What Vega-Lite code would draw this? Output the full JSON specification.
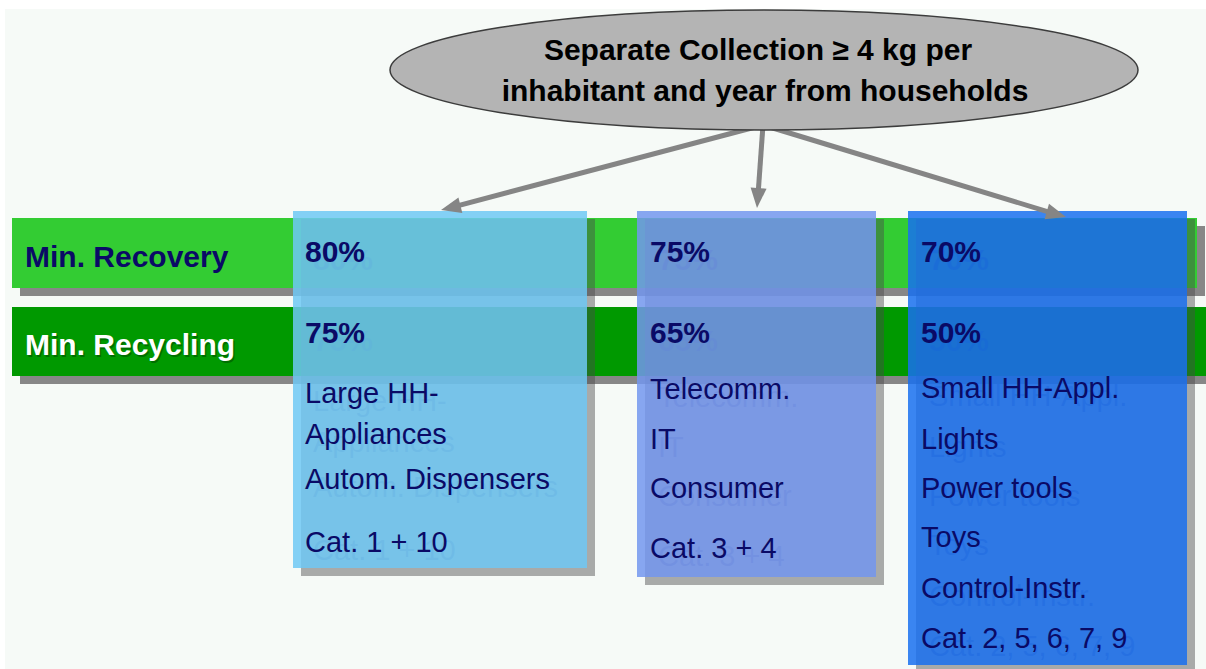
{
  "$schema": "https://vega.github.io/schema/vega-lite/v6.json",
  "width": 1206,
  "height": 669,
  "padding": 0,
  "autosize": {"type": "fit", "contains": "padding"},
  "background": "#f6faf7",
  "config": {"view": {"stroke": null}},
  "datasets": {
    "rects": [
      {"part": "frame", "x": 0, "x2": 1206, "y": 0, "y2": 9},
      {"part": "frame", "x": 0, "x2": 5, "y": 0, "y2": 669},
      {"part": "recovery", "x": 12, "x2": 1197, "y": 218, "y2": 288},
      {"part": "recycling", "x": 12, "x2": 1206, "y": 307, "y2": 376},
      {"part": "box1", "x": 293, "x2": 587, "y": 211, "y2": 568},
      {"part": "box2", "x": 637, "x2": 876, "y": 211, "y2": 577},
      {"part": "box3", "x": 908, "x2": 1187, "y": 211, "y2": 665}
    ],
    "texts": [
      {"role": "recoveryLabel", "text": "Min. Recovery", "x": 25, "y": 267},
      {"role": "recyclingLabel", "text": "Min. Recycling", "x": 25, "y": 355},
      {"role": "pct", "text": "80%", "x": 305, "y": 262},
      {"role": "pct", "text": "75%", "x": 305, "y": 343},
      {"role": "item", "text": "Large HH-", "x": 305, "y": 403},
      {"role": "item", "text": "Appliances", "x": 305, "y": 444},
      {"role": "item", "text": "Autom. Dispensers", "x": 305, "y": 489},
      {"role": "item", "text": "Cat. 1 + 10", "x": 305, "y": 552},
      {"role": "pct", "text": "75%", "x": 650, "y": 262},
      {"role": "pct", "text": "65%", "x": 650, "y": 343},
      {"role": "item", "text": "Telecomm.", "x": 650, "y": 399},
      {"role": "item", "text": "IT", "x": 650, "y": 449},
      {"role": "item", "text": "Consumer", "x": 650, "y": 498},
      {"role": "item", "text": "Cat. 3 + 4", "x": 650, "y": 558},
      {"role": "pct", "text": "70%", "x": 921, "y": 262},
      {"role": "pct", "text": "50%", "x": 921, "y": 343},
      {"role": "item", "text": "Small HH-Appl.", "x": 921, "y": 398},
      {"role": "item", "text": "Lights", "x": 921, "y": 449},
      {"role": "item", "text": "Power tools", "x": 921, "y": 498},
      {"role": "item", "text": "Toys", "x": 921, "y": 547},
      {"role": "item", "text": "Control-Instr.", "x": 921, "y": 598},
      {"role": "item", "text": "Cat. 2, 5, 6, 7, 9", "x": 921, "y": 648},
      {"role": "title", "text": "Separate Collection ≥ 4 kg per", "x": 758, "y": 60},
      {"role": "title", "text": "inhabitant and year from households", "x": 765, "y": 101}
    ],
    "arrows": [
      {"x": 763, "y": 125, "x2": 450.7, "y2": 207.6},
      {"x": 763, "y": 125, "x2": 757.8, "y2": 198},
      {"x": 763, "y": 125, "x2": 1056.4, "y2": 214.3}
    ],
    "heads": [
      {"x": 450.7, "y": 207.6, "heading": 256},
      {"x": 757.8, "y": 198, "heading": 184.5},
      {"x": 1056.4, "y": 214.3, "heading": 106}
    ],
    "ellipse": [
      {"x": 764, "y": 70}
    ]
  },
  "encoding": {
    "x": {"field": "x", "type": "quantitative", "scale": {"domain": [0, 1206], "nice": false, "zero": false}, "axis": null},
    "y": {"field": "y", "type": "quantitative", "scale": {"domain": [0, 669], "nice": false, "zero": false, "reverse": true}, "axis": null}
  },
  "layer": [
    {
      "data": {"name": "rects"},
      "transform": [{"filter": {"field": "part", "equal": "frame"}}],
      "mark": {"type": "rect", "color": "#ffffff", "clip": true},
      "encoding": {"x2": {"field": "x2"}, "y2": {"field": "y2"}}
    },
    {
      "data": {"name": "rects"},
      "transform": [{"filter": {"field": "part", "oneOf": ["recovery", "recycling"]}}],
      "mark": {"type": "rect", "color": "#878787", "clip": true, "xOffset": 8, "x2Offset": 8, "yOffset": 8, "y2Offset": 8},
      "encoding": {"x2": {"field": "x2"}, "y2": {"field": "y2"}}
    },
    {
      "data": {"name": "rects"},
      "transform": [{"filter": {"field": "part", "equal": "recovery"}}],
      "mark": {"type": "rect", "color": "#33cc33", "clip": true},
      "encoding": {"x2": {"field": "x2"}, "y2": {"field": "y2"}}
    },
    {
      "data": {"name": "rects"},
      "transform": [{"filter": {"field": "part", "equal": "recycling"}}],
      "mark": {"type": "rect", "color": "#009900", "clip": true},
      "encoding": {"x2": {"field": "x2"}, "y2": {"field": "y2"}}
    },
    {
      "data": {"name": "texts"},
      "transform": [{"filter": {"field": "role", "equal": "recyclingLabel"}}],
      "mark": {"type": "text", "align": "left", "baseline": "alphabetic", "font": "Liberation Sans", "fontSize": 30, "fontWeight": "bold", "fill": "#003300", "opacity": 0.4, "dx": 1.5, "dy": 1.5, "clip": true},
      "encoding": {"text": {"field": "text"}}
    },
    {
      "data": {"name": "texts"},
      "transform": [{"filter": {"field": "role", "equal": "recoveryLabel"}}],
      "mark": {"type": "text", "align": "left", "baseline": "alphabetic", "font": "Liberation Sans", "fontSize": 30, "fontWeight": "bold", "fill": "#0a0a66", "clip": true},
      "encoding": {"text": {"field": "text"}}
    },
    {
      "data": {"name": "texts"},
      "transform": [{"filter": {"field": "role", "equal": "recyclingLabel"}}],
      "mark": {"type": "text", "align": "left", "baseline": "alphabetic", "font": "Liberation Sans", "fontSize": 30, "fontWeight": "bold", "fill": "#ffffff", "clip": true},
      "encoding": {"text": {"field": "text"}}
    },
    {
      "data": {"name": "rects"},
      "transform": [{"filter": {"field": "part", "oneOf": ["box1", "box2", "box3"]}}],
      "mark": {"type": "rect", "color": "#4a4a4a", "opacity": 0.45, "clip": true, "xOffset": 8, "x2Offset": 8, "yOffset": 8, "y2Offset": 8},
      "encoding": {"x2": {"field": "x2"}, "y2": {"field": "y2"}}
    },
    {
      "data": {"name": "texts"},
      "transform": [{"filter": {"field": "role", "equal": "pct"}}],
      "mark": {"type": "text", "align": "left", "baseline": "alphabetic", "font": "Liberation Sans", "fontSize": 30, "fontWeight": "bold", "fill": "#0a0a66", "opacity": 0.35, "dx": 8, "dy": 8, "clip": true},
      "encoding": {"text": {"field": "text"}}
    },
    {
      "data": {"name": "texts"},
      "transform": [{"filter": {"field": "role", "equal": "item"}}],
      "mark": {"type": "text", "align": "left", "baseline": "alphabetic", "font": "Liberation Sans", "fontSize": 29, "fill": "#0a0a66", "opacity": 0.35, "dx": 8, "dy": 8, "clip": true},
      "encoding": {"text": {"field": "text"}}
    },
    {
      "data": {"name": "rects"},
      "transform": [{"filter": {"field": "part", "equal": "box1"}}],
      "mark": {"type": "rect", "color": "#6ec8f5", "opacity": 0.85, "clip": true},
      "encoding": {"x2": {"field": "x2"}, "y2": {"field": "y2"}}
    },
    {
      "data": {"name": "rects"},
      "transform": [{"filter": {"field": "part", "equal": "box2"}}],
      "mark": {"type": "rect", "color": "#7396ee", "opacity": 0.85, "clip": true},
      "encoding": {"x2": {"field": "x2"}, "y2": {"field": "y2"}}
    },
    {
      "data": {"name": "rects"},
      "transform": [{"filter": {"field": "part", "equal": "box3"}}],
      "mark": {"type": "rect", "color": "#1970f0", "opacity": 0.85, "clip": true},
      "encoding": {"x2": {"field": "x2"}, "y2": {"field": "y2"}}
    },
    {
      "data": {"name": "texts"},
      "transform": [{"filter": {"field": "role", "equal": "pct"}}],
      "mark": {"type": "text", "align": "left", "baseline": "alphabetic", "font": "Liberation Sans", "fontSize": 30, "fontWeight": "bold", "fill": "#0a0a66", "clip": true},
      "encoding": {"text": {"field": "text"}}
    },
    {
      "data": {"name": "texts"},
      "transform": [{"filter": {"field": "role", "equal": "item"}}],
      "mark": {"type": "text", "align": "left", "baseline": "alphabetic", "font": "Liberation Sans", "fontSize": 29, "fill": "#0a0a66", "clip": true},
      "encoding": {"text": {"field": "text"}}
    },
    {
      "data": {"name": "arrows"},
      "mark": {"type": "rule", "color": "#858585", "strokeWidth": 5, "clip": true},
      "encoding": {"x2": {"field": "x2"}, "y2": {"field": "y2"}}
    },
    {
      "data": {"name": "heads"},
      "mark": {"type": "point", "shape": "M0,-1L-0.8,1L0.8,1Z", "size": 400, "filled": true, "color": "#858585", "opacity": 1, "clip": true},
      "encoding": {"angle": {"field": "heading", "type": "quantitative", "scale": null}}
    },
    {
      "data": {"name": "ellipse"},
      "mark": {"type": "point", "shape": "M-1,0C-1,-0.0886,-0.5523,-0.1604,0,-0.1604C0.5523,-0.1604,1,-0.0886,1,0C1,0.0886,0.5523,0.1604,0,0.1604C-0.5523,0.1604,-1,0.0886,-1,0Z", "size": 559504, "filled": true, "fill": "#b4b4b4", "stroke": "#3c3c3c", "strokeWidth": 1.5, "opacity": 1, "clip": true}
    },
    {
      "data": {"name": "texts"},
      "transform": [{"filter": {"field": "role", "equal": "title"}}],
      "mark": {"type": "text", "align": "center", "baseline": "alphabetic", "font": "Liberation Sans", "fontSize": 30, "fontWeight": "bold", "fill": "#000000", "clip": true},
      "encoding": {"text": {"field": "text"}}
    }
  ]
}
